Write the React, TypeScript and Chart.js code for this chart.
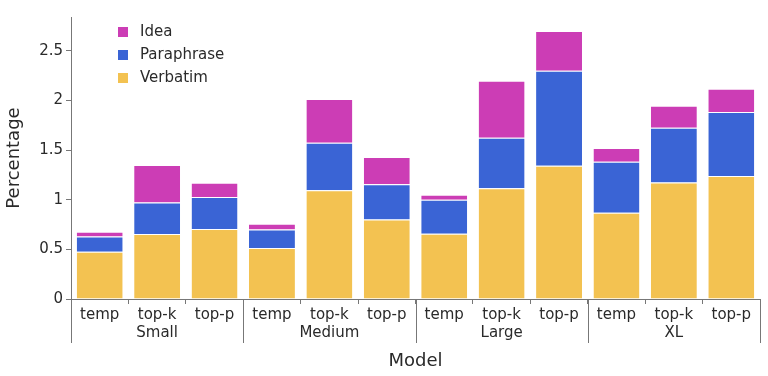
import React, { useEffect, useRef } from "react";
import { Chart, registerables } from "chart.js";

Chart.register(...registerables);

const groups = ["Small", "Medium", "Large", "XL"];
const methods = ["temp", "top-k", "top-p"];
const categories = groups.flatMap(() => methods);

const verbatim = [0.475, 0.655, 0.705, 0.513, 1.094, 0.8, 0.658, 1.115, 1.342, 0.869, 1.174, 1.239];
const paraphrase = [0.155, 0.318, 0.322, 0.187, 0.48, 0.356, 0.342, 0.509, 0.957, 0.514, 0.551, 0.644];
const idea = [0.048, 0.377, 0.143, 0.058, 0.441, 0.274, 0.05, 0.574, 0.4, 0.137, 0.222, 0.235];

const yTicks = [0, 0.5, 1, 1.5, 2, 2.5];

const FONT = "'DejaVu Sans', Verdana, sans-serif";
const TEXT = "#2a2a2a";
const AXIS = "#777";

const legendPlugin = {
  id: "insideLegend",
  afterDraw(chart: any) {
    const ctx = chart.ctx;
    const ds = [...chart.data.datasets].reverse();
    ctx.save();
    ctx.font = `15px ${FONT}`;
    ctx.textBaseline = "middle";
    ds.forEach((d: any, i: number) => {
      const y = 32 + i * 23;
      ctx.fillStyle = d.backgroundColor;
      ctx.fillRect(118, y - 5, 10, 10);
      ctx.fillStyle = TEXT;
      ctx.fillText(d.label, 140, y);
    });
    ctx.restore();
  },
};

const groupPlugin = {
  id: "groupAxis",
  afterDraw(chart: any) {
    const x = chart.scales.x;
    const ctx = chart.ctx;
    const bottom = chart.chartArea.bottom;
    const step = x.getPixelForValue(1) - x.getPixelForValue(0);
    ctx.save();
    ctx.strokeStyle = AXIS;
    ctx.lineWidth = 1;
    ctx.font = `15px ${FONT}`;
    ctx.fillStyle = TEXT;
    ctx.textAlign = "center";
    ctx.textBaseline = "middle";
    for (let g = 0; g <= groups.length; g++) {
      const px = Math.round(x.getPixelForValue(g * methods.length) - step / 2) + 0.5;
      ctx.beginPath();
      ctx.moveTo(px, bottom);
      ctx.lineTo(px, 343);
      ctx.stroke();
    }
    groups.forEach((g, i) => {
      const cx = x.getPixelForValue(i * methods.length + 1);
      ctx.fillText(g, cx, 333);
    });
    ctx.restore();
  },
};

export default function App() {
  const ref = useRef<HTMLCanvasElement>(null);
  useEffect(() => {
    const border = { top: 1, left: 0, right: 0, bottom: 0 };
    const chart = new Chart(ref.current!, {
      type: "bar",
      data: {
        labels: categories,
        datasets: [
          { label: "Verbatim", data: verbatim, backgroundColor: "#F3C251", borderColor: "rgba(255,255,255,0.8)", borderWidth: border as any, borderSkipped: false as any },
          { label: "Paraphrase", data: paraphrase, backgroundColor: "#3A64D5", borderColor: "rgba(255,255,255,0.8)", borderWidth: border as any, borderSkipped: false as any },
          { label: "Idea", data: idea, backgroundColor: "#CC3DB5", borderColor: "rgba(255,255,255,0.8)", borderWidth: border as any, borderSkipped: false as any },
        ],
      },
      options: {
        responsive: true,
        maintainAspectRatio: false,
        animation: false,
        layout: { padding: { top: 17, right: 8, left: 0, bottom: 0 } },
        plugins: { legend: { display: false }, tooltip: { enabled: false } },
        datasets: { bar: { barPercentage: 0.8, categoryPercentage: 1 } },
        scales: {
          x: {
            stacked: true,
            grid: { display: true, drawOnChartArea: false, drawTicks: true, tickLength: 5, offset: true, color: AXIS },
            border: { display: true, color: AXIS },
            ticks: { font: { family: FONT, size: 15 }, color: TEXT, padding: 2, maxRotation: 0, autoSkip: false },
            title: { display: true, text: "Model", font: { family: FONT, size: 18 }, color: TEXT, padding: { top: 0, bottom: 4 } },
            afterFit(s: any) { s.height = 77; },
          },
          y: {
            stacked: true,
            min: 0,
            max: 2.84,
            afterBuildTicks(s: any) { s.ticks = yTicks.map((v) => ({ value: v })); },
            grid: { display: true, drawOnChartArea: false, drawTicks: true, tickLength: 5, color: AXIS },
            border: { display: true, color: AXIS },
            ticks: { font: { family: FONT, size: 15 }, color: TEXT, padding: 3, callback: (v: any) => String(v) },
            title: { display: true, text: "Percentage", font: { family: FONT, size: 18 }, color: TEXT, padding: { top: 4, bottom: 0 } },
            afterFit(s: any) { s.width = 71; },
          },
        },
      },
      plugins: [legendPlugin, groupPlugin],
    });
    return () => chart.destroy();
  }, []);
  return (
    <div style={{ position: "fixed", left: 0, top: 0, width: 768, height: 376, background: "#fff" }}>
      <canvas ref={ref} />
    </div>
  );
}
